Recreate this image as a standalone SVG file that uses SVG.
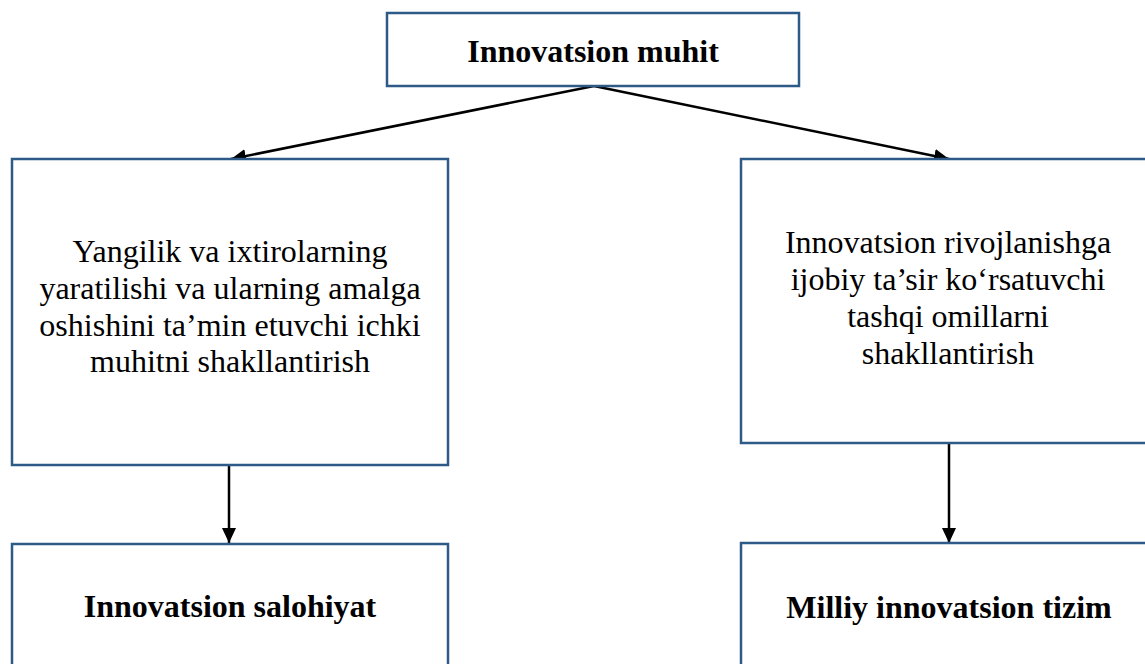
<svg xmlns="http://www.w3.org/2000/svg" width="1145" height="664" viewBox="0 0 1145 664">
  <style>
    .box { fill: #ffffff; stroke: #2E5A88; stroke-width: 2.5; }
    .lbl { font-family: "Liberation Serif", "Times New Roman", serif; font-size: 32px; fill: #000000; text-anchor: middle; }
    .bold { font-weight: bold; }
    .conn { stroke: #000000; stroke-width: 2.5; fill: none; marker-end: url(#arrow); }
  </style>
  <defs>
    <marker id="arrow" markerUnits="userSpaceOnUse" markerWidth="16" markerHeight="16" viewBox="0 0 16 16" refX="15" refY="8" orient="auto">
      <path d="M0,1 L15,8 L0,15 Z" fill="#000000"/>
    </marker>
  </defs>

  <rect width="1145" height="664" fill="#ffffff"/>

  <g id="connectors">
    <line class="conn" x1="594" y1="86" x2="231" y2="159"/>
    <line class="conn" x1="594" y1="86" x2="949" y2="159"/>
    <line class="conn" x1="229" y1="465" x2="229" y2="543"/>
    <line class="conn" x1="949" y1="443" x2="949" y2="543"/>
  </g>

  <g id="node-innovatsion-muhit">
    <rect class="box" x="387" y="13" width="412" height="73"/>
    <text class="lbl bold" x="593" y="62">Innovatsion muhit</text>
  </g>

  <g id="node-ichki-muhit">
    <rect class="box" x="12" y="159" width="436" height="306"/>
    <text class="lbl" x="230" y="262">Yangilik va ixtirolarning</text>
    <text class="lbl" x="230" y="299">yaratilishi va ularning amalga</text>
    <text class="lbl" x="230" y="336">oshishini ta’min etuvchi ichki</text>
    <text class="lbl" x="230" y="372">muhitni shakllantirish</text>
  </g>

  <g id="node-tashqi-omillar">
    <rect class="box" x="741" y="159" width="420" height="284"/>
    <text class="lbl" x="948" y="253">Innovatsion rivojlanishga</text>
    <text class="lbl" x="948" y="290">ijobiy ta’sir ko‘rsatuvchi</text>
    <text class="lbl" x="948" y="327">tashqi omillarni</text>
    <text class="lbl" x="948" y="364">shakllantirish</text>
  </g>

  <g id="node-salohiyat">
    <rect class="box" x="12" y="544" width="436" height="140"/>
    <text class="lbl bold" x="230" y="617">Innovatsion salohiyat</text>
  </g>

  <g id="node-milliy-tizim">
    <rect class="box" x="741" y="543" width="420" height="140"/>
    <text class="lbl bold" x="949" y="618">Milliy innovatsion tizim</text>
  </g>
</svg>
